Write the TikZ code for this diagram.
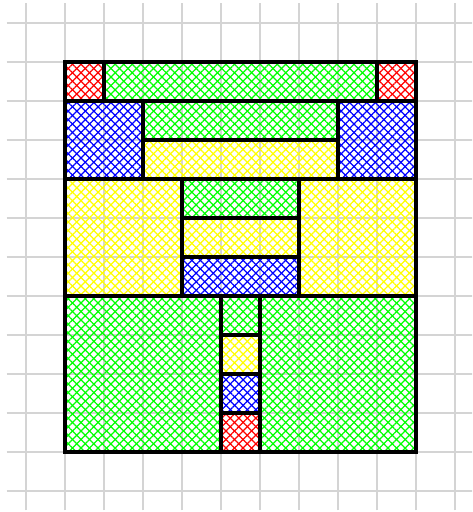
\documentclass[tikz,border=0pt]{standalone}
\usetikzlibrary{patterns.meta}
\tikzset{
  gridline/.style={draw=black!17, line width=1.1pt},
  hatch/.style={
    preaction={pattern={Lines[angle=45,distance=4.4pt,line width=0.9pt]}, pattern color=#1},
    pattern={Lines[angle=-45,distance=4.4pt,line width=0.9pt]}, pattern color=#1,
    draw=black, line width=2.5pt}
}
\begin{document}
\begin{tikzpicture}
\useasboundingbox (-0.667,0.585) rectangle (11.436,-12.543);
\begin{scope}
\clip (-0.667,0.585) rectangle (11.436,-12.543);
\draw[gridline] (-0.5,-12.5) grid (11.5,0.5);
\end{scope}
% row 1
\draw[hatch=red]   (1,-1) rectangle (2,-2);
\draw[hatch=green] (2,-1) rectangle (9,-2);
\draw[hatch=red]   (9,-1) rectangle (10,-2);
% rows 2-4
\draw[hatch=blue]   (1,-2) rectangle (3,-4);
\draw[hatch=green]  (3,-2) rectangle (8,-3);
\draw[hatch=yellow] (3,-3) rectangle (8,-4);
\draw[hatch=blue]   (8,-2) rectangle (10,-4);
% rows 4-7
\draw[hatch=yellow] (1,-4) rectangle (4,-7);
\draw[hatch=green]  (4,-4) rectangle (7,-5);
\draw[hatch=yellow] (4,-5) rectangle (7,-6);
\draw[hatch=blue]   (4,-6) rectangle (7,-7);
\draw[hatch=yellow] (7,-4) rectangle (10,-7);
% rows 7-11
\draw[hatch=green]  (1,-7) rectangle (5,-11);
\draw[hatch=green]  (5,-7) rectangle (6,-8);
\draw[hatch=yellow] (5,-8) rectangle (6,-9);
\draw[hatch=blue]   (5,-9) rectangle (6,-10);
\draw[hatch=red]    (5,-10) rectangle (6,-11);
\draw[hatch=green]  (6,-7) rectangle (10,-11);
\end{tikzpicture}
\end{document}
